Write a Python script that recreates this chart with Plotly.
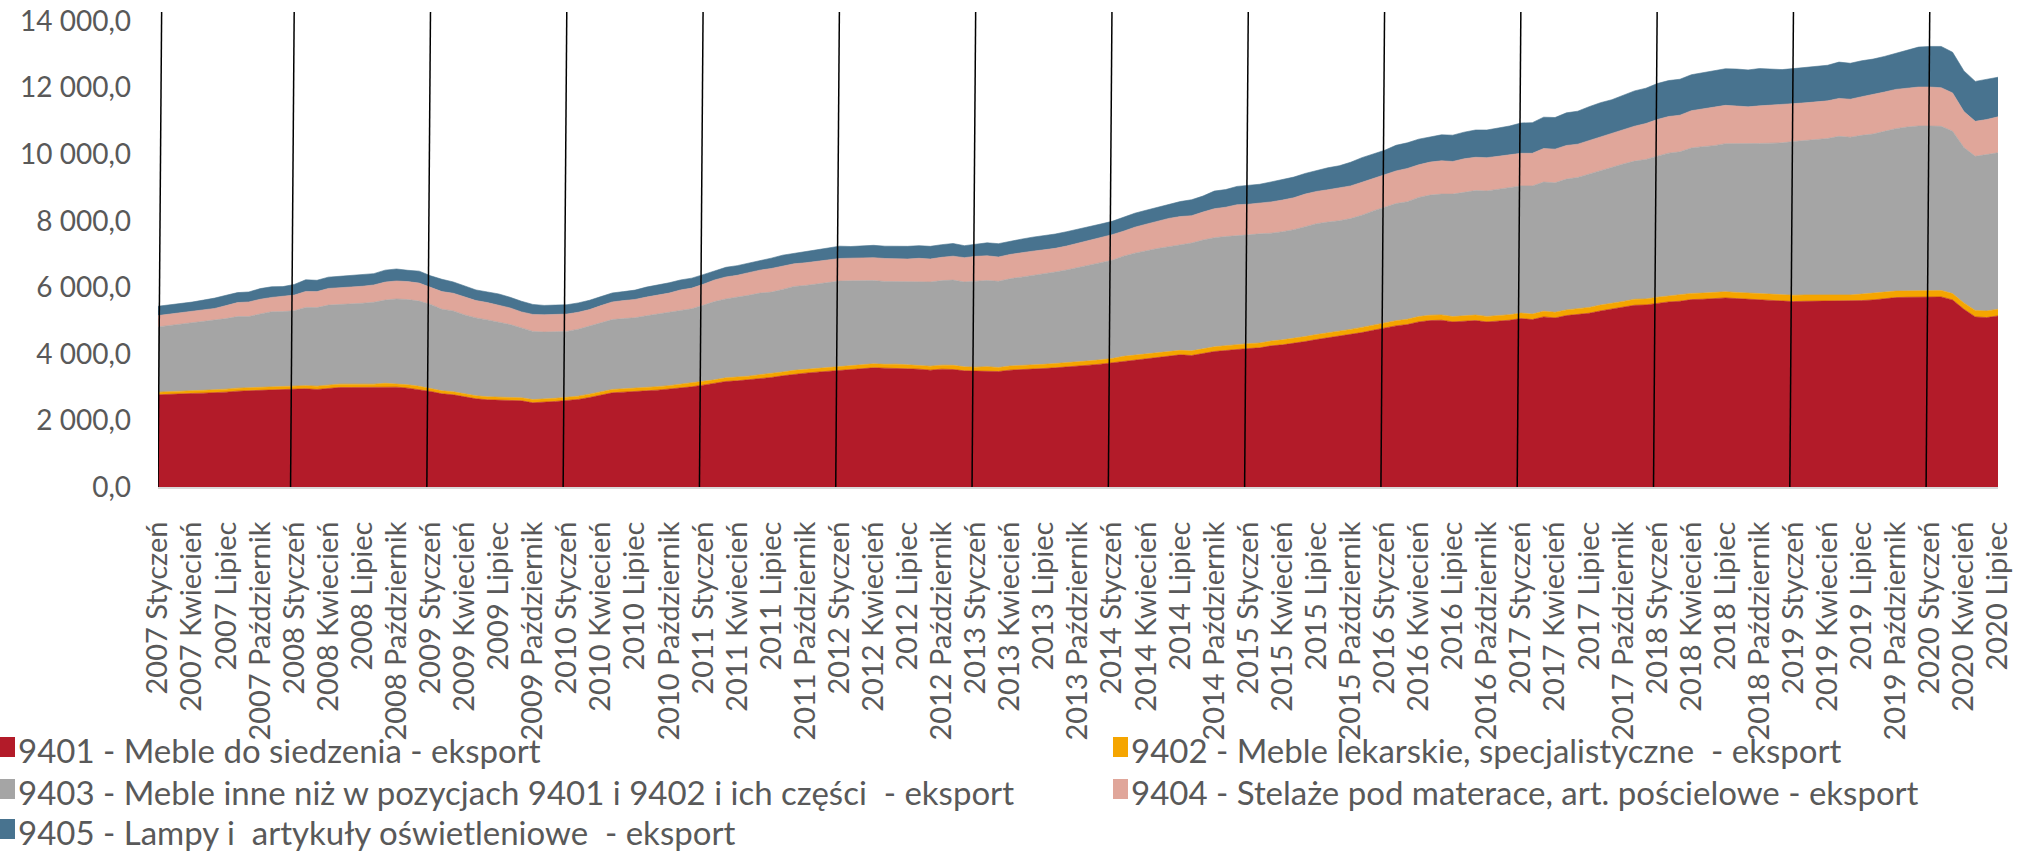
import plotly.graph_objects as go

# ---------------- data ----------------
years = list(range(2007, 2021))
month_names = ["Styczeń", "Luty", "Marzec", "Kwiecień", "Maj", "Czerwiec", "Lipiec",
               "Sierpień", "Wrzesień", "Październik", "Listopad", "Grudzień"]
months = [f"{y} {m}" for y in years for m in month_names][:163]

series_names = [
    "9401 - Meble do siedzenia - eksport",
    "9402 - Meble lekarskie, specjalistyczne  - eksport",
    "9403 - Meble inne niż w pozycjach 9401 i 9402 i ich części  - eksport",
    "9404 - Stelaże pod materace, art. pościelowe - eksport",
    "9405 - Lampy i  artykuły oświetleniowe  - eksport",
]
series_colors = ["#B31B29", "#F5A500", "#A5A5A5", "#E0A69A", "#48738F"]

v9401 = [2770, 2790, 2800, 2810, 2820, 2830, 2850, 2880, 2890, 2910, 2920, 2930,
         2930, 2950, 2930, 2970, 2990, 2990, 2990, 2990, 3010, 3000, 2970, 2930,
         2870, 2800, 2770, 2710, 2650, 2620, 2610, 2600, 2590, 2530, 2540, 2570,
         2600, 2630, 2690, 2750, 2830, 2850, 2860, 2890, 2910, 2940, 2980, 3010,
         3060, 3110, 3170, 3190, 3220, 3260, 3290, 3340, 3390, 3420, 3450, 3480,
         3510, 3530, 3550, 3580, 3570, 3570, 3550, 3540, 3510, 3540, 3530, 3490,
         3480, 3490, 3470, 3510, 3520, 3550, 3560, 3580, 3600, 3630, 3660, 3690,
         3730, 3790, 3830, 3860, 3900, 3940, 3970, 3950, 4010, 4070, 4100, 4140,
         4160, 4180, 4240, 4270, 4310, 4370, 4430, 4480, 4520, 4580, 4640, 4710,
         4780, 4840, 4880, 4960, 5000, 5010, 4960, 4980, 5000, 4960, 4980, 5010,
         5060, 5030, 5110, 5080, 5150, 5180, 5220, 5290, 5340, 5400, 5460, 5470,
         5520, 5560, 5580, 5630, 5640, 5660, 5680, 5660, 5640, 5630, 5620, 5590,
         5570, 5580, 5580, 5580, 5590, 5580, 5600, 5620, 5660, 5690, 5700, 5710,
         5720, 5710, 5620, 5340, 5110, 5090, 5140]

v9402 = [80, 80, 85, 85, 85, 85, 90, 90, 90, 90, 95, 90,
         95, 95, 100, 95, 100, 100, 100, 100, 105, 100, 100, 95,
         95, 90, 90, 90, 90, 90, 90, 90, 90, 95, 95, 95,
         95, 100, 100, 100, 100, 100, 105, 105, 105, 105, 110, 105,
         110, 110, 110, 110, 110, 115, 115, 115, 115, 115, 115, 120,
         115, 115, 120, 120, 115, 120, 120, 120, 120, 120, 125, 120,
         120, 125, 120, 125, 125, 125, 125, 130, 130, 130, 130, 130,
         130, 135, 135, 135, 135, 140, 135, 140, 140, 140, 145, 140,
         145, 145, 145, 150, 150, 150, 150, 150, 150, 155, 155, 155,
         155, 155, 160, 160, 160, 160, 160, 160, 165, 165, 165, 165,
         165, 165, 170, 170, 170, 170, 175, 175, 175, 175, 180, 180,
         180, 180, 180, 185, 185, 185, 185, 185, 190, 190, 190, 190,
         190, 190, 190, 190, 195, 190, 195, 195, 195, 195, 195, 195,
         195, 195, 190, 190, 195, 200, 200]

v9403 = [1960, 1980, 2010, 2040, 2060, 2090, 2120, 2150, 2140, 2200, 2250, 2250,
         2270, 2350, 2360, 2400, 2390, 2410, 2430, 2460, 2500, 2550, 2560, 2560,
         2520, 2450, 2430, 2370, 2340, 2310, 2260, 2190, 2100, 2050, 2020, 2000,
         1980, 2010, 2040, 2080, 2100, 2110, 2120, 2150, 2180, 2200, 2220, 2240,
         2290, 2350, 2370, 2400, 2430, 2450, 2450, 2480, 2520, 2520, 2530, 2550,
         2560, 2550, 2530, 2500, 2490, 2480, 2500, 2520, 2530, 2540, 2560, 2550,
         2580, 2590, 2590, 2620, 2660, 2680, 2710, 2750, 2790, 2840, 2880, 2920,
         2950, 3010, 3060, 3110, 3130, 3140, 3170, 3240, 3270, 3280, 3280, 3280,
         3270, 3280, 3240, 3250, 3270, 3300, 3330, 3330, 3330, 3330, 3370, 3430,
         3460, 3520, 3530, 3580, 3610, 3630, 3680, 3720, 3740, 3770, 3800, 3820,
         3820, 3850, 3880, 3890, 3930, 3950, 4010, 4040, 4080, 4130, 4150, 4190,
         4240, 4290, 4310, 4370, 4400, 4410, 4450, 4470, 4470, 4500, 4520, 4560,
         4620, 4640, 4670, 4700, 4750, 4740, 4770, 4790, 4830, 4880, 4920, 4940,
         4930, 4930, 4880, 4670, 4630, 4690, 4700]

v9404 = [340, 340, 340, 340, 350, 360, 390, 420, 440, 440, 430, 450,
         470, 480, 480, 500, 500, 510, 510, 520, 540, 540, 540, 540,
         520, 530, 530, 530, 520, 520, 500, 500, 480, 510, 520, 520,
         520, 510, 500, 520, 530, 540, 550, 560, 570, 580, 610, 620,
         630, 650, 660, 660, 680, 690, 710, 710, 680, 680, 680, 680,
         680, 680, 680, 690, 690, 680, 680, 690, 690, 700, 720, 730,
         750, 740, 730, 730, 740, 730, 730, 710, 720, 720, 740, 760,
         770, 750, 780, 790, 820, 850, 850, 820, 840, 870, 880, 920,
         920, 920, 940, 950, 960, 980, 970, 970, 980, 980, 990, 980,
         980, 980, 1000, 980, 990, 1000, 980, 1000, 1000, 1000, 990, 980,
         980, 980, 1010, 1010, 1010, 1000, 1000, 1020, 1020, 1020, 1050, 1080,
         1100, 1100, 1100, 1120, 1140, 1160, 1150, 1130, 1120, 1130, 1140, 1140,
         1130, 1130, 1130, 1130, 1140, 1140, 1160, 1180, 1180, 1180, 1170, 1170,
         1170, 1160, 1150, 1080, 1050, 1060, 1080]

v9405 = [280, 280, 280, 280, 300, 310, 310, 300, 300, 320, 320, 300,
         320, 350, 340, 340, 350, 340, 340, 340, 360, 360, 340, 360,
         340, 370, 340, 340, 320, 320, 340, 320, 320, 300, 280, 280,
         280, 280, 280, 270, 270, 270, 280, 300, 300, 310, 300, 300,
         290, 280, 290, 290, 280, 290, 310, 320, 320, 340, 350, 350,
         370, 350, 360, 370, 370, 380, 380, 380, 380, 380, 380, 360,
         370, 390, 400, 400, 400, 420, 420, 430, 430, 420, 410, 400,
         400, 420, 420, 420, 420, 430, 450, 480, 480, 530, 530, 550,
         560, 570, 600, 610, 620, 620, 630, 660, 670, 710, 740, 720,
         740, 770, 770, 770, 760, 780, 790, 800, 820, 830, 850, 870,
         910, 920, 940, 950, 980, 990, 1020, 1020, 1020, 1040, 1060, 1060,
         1080, 1080, 1080, 1080, 1080, 1090, 1100, 1110, 1110, 1120, 1090, 1060,
         1060, 1060, 1060, 1070, 1090, 1080, 1080, 1070, 1070, 1090, 1140, 1200,
         1220, 1240, 1220, 1220, 1200, 1200, 1190]

y_tick_values = [0, 2000, 4000, 6000, 8000, 10000, 12000, 14000]
y_tick_labels = ["0,0", "2 000,0", "4 000,0", "6 000,0", "8 000,0",
                 "10 000,0", "12 000,0", "14 000,0"]

all_values = [v9401, v9402, v9403, v9404, v9405]

# ---------------- figure ----------------
FONT = "Lato, 'Liberation Sans', sans-serif"
TXT = "#595959"

W, H = 2021, 854
ML, MR, MT, MB = 158, 23, 11, 367
PW, PH = W - ML - MR, H - MT - MB


def px_x(p):
    return (p - ML) / PW


def px_y(p):
    return (PH + MT - p) / PH


idx = list(range(len(months)))
fig = go.Figure()
for name, color, vals in zip(series_names, series_colors, all_values):
    fig.add_trace(go.Scatter(
        x=idx, y=vals, name=name, stackgroup="one", mode="lines",
        line=dict(width=0.6, color=color), fillcolor=color,
        showlegend=False, hoverinfo="skip"))

# legend: one small legend per entry, two columns / three rows
legend_col_px = [-22, 1091, -22, 1091, -22]      # left edge of each legend box
legend_row_px = [747, 747, 789, 789, 829]         # vertical centre of each entry
swatch_left_px = [0, 1113, 0, 1113, 0]
legend_layout = {}
for k, (name, color) in enumerate(zip(series_names, series_colors)):
    key = "legend" if k == 0 else f"legend{k + 1}"
    fig.add_trace(go.Scatter(
        x=[None], y=[None], name=name, mode="markers",
        marker=dict(symbol="square", size=2, color="rgba(0,0,0,0)"),
        legend=key, showlegend=True))
    legend_layout[key] = dict(
        x=px_x(legend_col_px[k]), xanchor="left",
        y=px_y(legend_row_px[k] - 25), yanchor="top",
        orientation="v", traceorder="normal",
        font=dict(size=33, color=TXT, family=FONT),
        bgcolor="rgba(0,0,0,0)", itemwidth=30, tracegroupgap=0)
    # colour swatch of the legend entry
    fig.add_shape(type="rect", xref="paper", yref="paper",
                  x0=px_x(swatch_left_px[k]), x1=px_x(swatch_left_px[k] + 15),
                  y0=px_y(legend_row_px[k] + 10), y1=px_y(legend_row_px[k] - 10),
                  fillcolor=color, line=dict(width=0))

# year separator lines at each January
for j in range(0, len(months), 12):
    x0 = max(j - 0.33, 0)
    fig.add_shape(type="line", xref="x", yref="y",
                  x0=x0, y0=0, x1=x0 + 0.32, y1=14270,
                  line=dict(color="black", width=1.5), layer="above")

tick_pos = idx[::3]
tick_txt = [months[i] for i in tick_pos]

fig.update_layout(
    width=W, height=H,
    margin=dict(l=ML, r=MR, t=MT, b=MB, autoexpand=False),
    paper_bgcolor="white", plot_bgcolor="white",
    font=dict(family=FONT, color=TXT),
    xaxis=dict(range=[0, len(months) - 1], showgrid=False, zeroline=False,
               showline=True, linecolor="#D9D9D9", linewidth=2,
               tickmode="array", tickvals=tick_pos, ticktext=tick_txt,
               tickangle=-90, ticks="", ticklabelstandoff=21,
               tickfont=dict(size=29, color=TXT, family=FONT)),
    yaxis=dict(range=[0, 14300], showgrid=False, zeroline=False, showline=False,
               tickmode="array", tickvals=y_tick_values, ticktext=y_tick_labels,
               ticks="", ticklabelstandoff=26,
               tickfont=dict(size=28, color=TXT, family=FONT)),
    **legend_layout,
)

fig.write_html("out.html", config={"displayModeBar": False},
               post_script="document.body.style.margin='0';document.body.style.overflow='hidden';")
